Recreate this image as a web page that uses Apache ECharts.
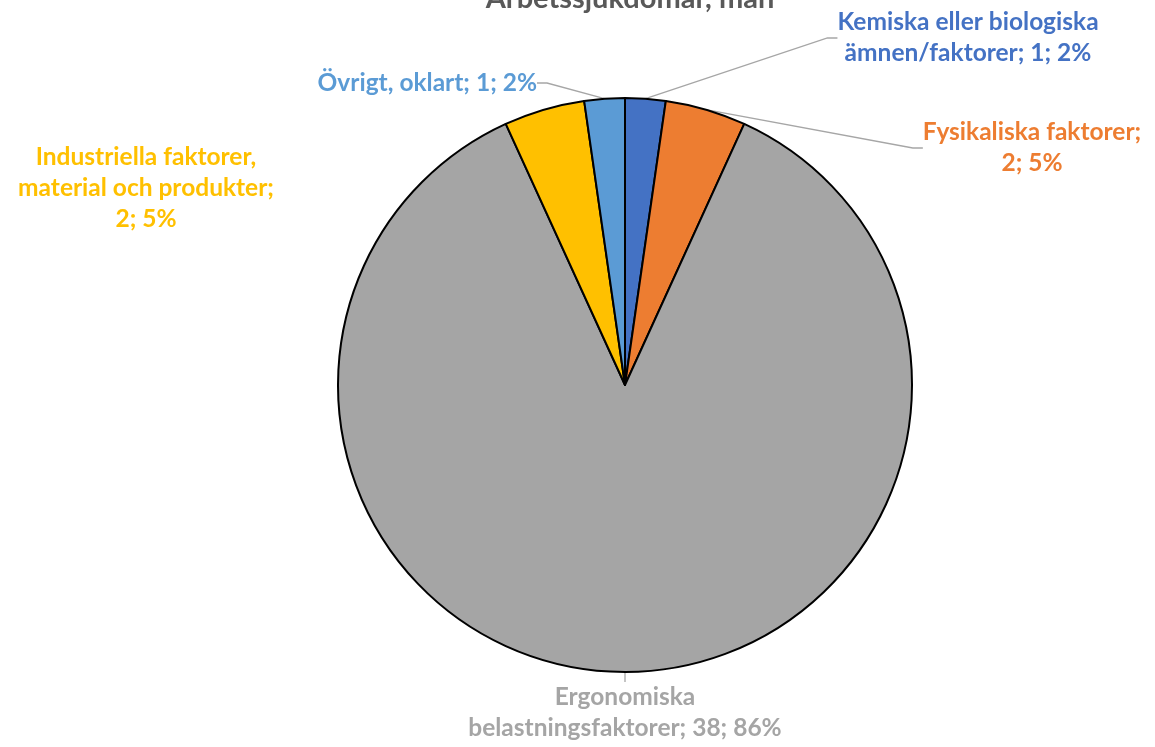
<!DOCTYPE html>
<html>
<head>
<meta charset="utf-8">
<script src="https://cdn.jsdelivr.net/npm/echarts@6/dist/echarts.min.js"></script>
<style>
  html, body { margin: 0; padding: 0; background: #fff; }
  #chart { width: 1155px; height: 747px; }
</style>
</head>
<body>
<div id="chart"></div>
<script>
// data, clockwise from 12 o'clock
var names = [
  'Kemiska eller biologiska\nämnen/faktorer',
  'Fysikaliska faktorer',
  'Ergonomiska\nbelastningsfaktorer',
  'Industriella faktorer,\nmaterial och produkter',
  'Övrigt, oklart'
];
var counts = [1, 2, 38, 2, 1];
var colors = ['#4472C4', '#ED7D31', '#A5A5A5', '#FFC000', '#5B9BD5'];
// Excel wrapped these after the name
var breakAfterName = [false, true, false, true, false];

var chart = echarts.init(document.getElementById('chart'));

// where Excel put the labels (centre of text block)
var labelPos = [
  [968, 38, 'center'],
  [1032, 148, 'center'],
  [625, 713, 'center'],
  [146, 188, 'center'],
  [537, 83, 'right']
];

var option = {
  title: {
    text: 'Arbetssjukdomar, män',
    left: 625,
    textAlign: 'center',
    top: -21,
    textStyle: {
      fontFamily: 'Lato',
      fontSize: 29,
      fontWeight: 'bold',
      color: '#595959'
    }
  },
  series: [{
    type: 'pie',
    center: [625, 385],
    radius: 287,
    startAngle: 90,
    clockwise: true,
    percentPrecision: 0,
    animation: false,
    itemStyle: {
      borderColor: '#000',
      borderWidth: 2
    },
    label: {
      show: true,
      fontFamily: 'Lato',
      fontSize: 24.5,
      fontWeight: 'bold',
      lineHeight: 31,
      formatter: function (p) {
        var sep = breakAfterName[p.dataIndex] ? ';\n' : '; ';
        return p.name + sep + p.value + '; ' + p.percent + '%';
      }
    },
    labelLine: {
      show: true,
      length: 10,
      length2: 10,
      lineStyle: { color: '#A6A6A6', width: 1.3 }
    },
    labelLayout: function (p) {
      var pos = labelPos[p.dataIndex];
      return { x: pos[0], y: pos[1], align: pos[2], verticalAlign: 'middle' };
    },
    data: names.map(function (n, i) {
      return {
        name: n,
        value: counts[i],
        itemStyle: { color: colors[i] },
        label: { color: colors[i], align: labelPos[i][2] },
        labelLine: { show: i !== 3 }
      };
    })
  }]
};
chart.setOption(option);
</script>
</body>
</html>
